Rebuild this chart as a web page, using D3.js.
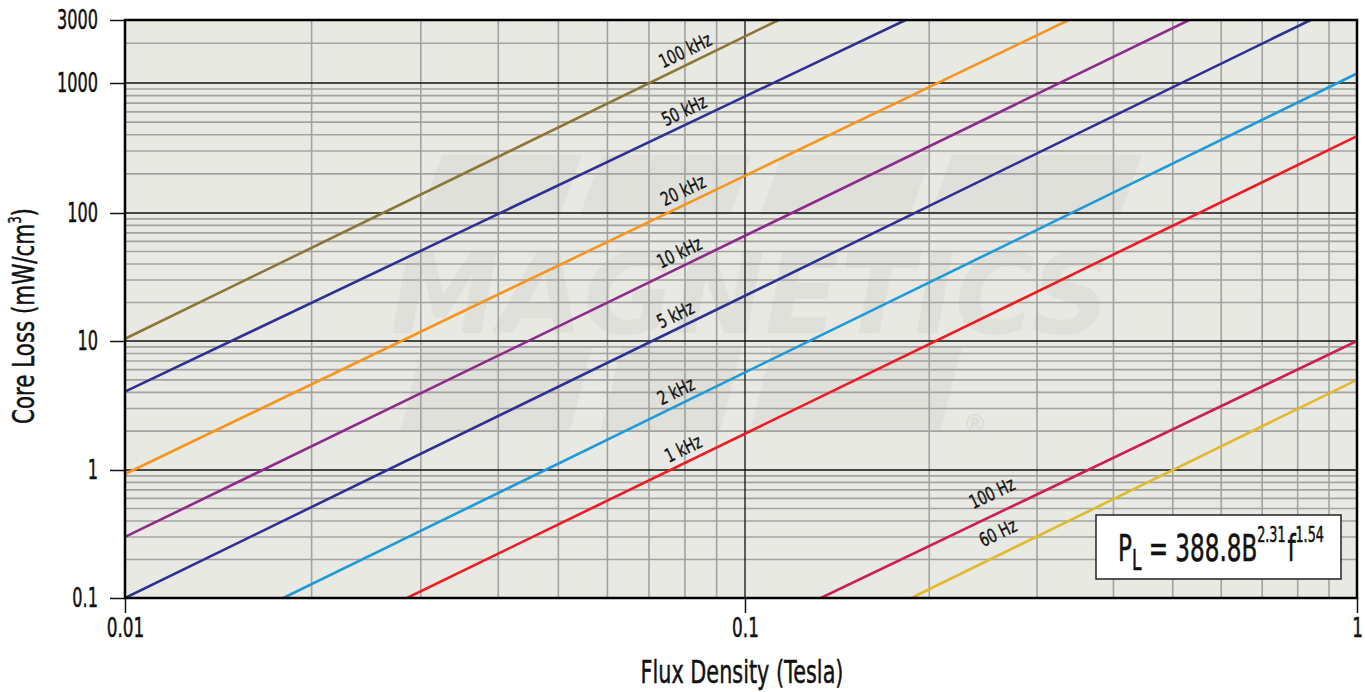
<!DOCTYPE html>
<html><head><meta charset="utf-8">
<script src="https://cdn.jsdelivr.net/npm/d3@7"></script>
<style>
html,body{margin:0;padding:0;background:#fff;}
text{font-family:"DejaVu Sans","Liberation Sans",sans-serif;}
</style></head>
<body><svg id="c" width="1365" height="692"></svg>
<script>
// ---- data ----
const seriesNames = ["100 kHz","50 kHz","20 kHz","10 kHz","5 kHz","2 kHz","1 kHz","100 Hz","60 Hz"];
const seriesColors = ["#8e7435","#2e3192","#f7941d","#8e2a8c","#2e3192","#1f9ad8","#ed1c24","#cc1e5a","#e2b82c"];
const startB = [0.01, 0.01, 0.01, 0.01, 0.01, 0.018, 0.0285, 0.133, 0.187];
const startP = [10.4, 4.05, 0.93, 0.30, 0.10, 0.1, 0.1, 0.1, 0.1];
const endB   = [0.1135, 0.183, 0.338, 0.532, 0.84, 1, 1, 1, 1];
const endP   = [3000, 3000, 3000, 3000, 3000, 1180, 390, 10, 5.0];
const labelB = [0.082, 0.082, 0.082, 0.081, 0.080, 0.080, 0.082, 0.262, 0.268];
const xTicks = [0.01, 0.1, 1];
const xTickLabels = ["0.01","0.1","1"];
const yTicks = [0.1, 1, 10, 100, 1000, 3000];
const yTickLabels = ["0.1","1","10","100","1000","3000"];

const svg = d3.select("#c");
const L=125, R=1357, T=20, B=598;
const x = d3.scaleLog().domain([0.01,0.1,1]).range([L,745,R]);
const y = d3.scaleLog().domain([0.1,1,10,100,1000,3000]).range([B,470,341,213,83,T]);

svg.append("rect").attr("x",L).attr("y",T).attr("width",R-L).attr("height",B-T).attr("fill","#e9e9e4");

// watermark
const wm = svg.append("g").attr("fill","#e0e0db");
wm.append("text").attr("x",750).attr("y",333).attr("text-anchor","middle")
  .attr("font-size",110).attr("font-weight","bold").attr("font-style","italic")
  .attr("textLength",720).attr("lengthAdjust","spacingAndGlyphs").text("MAGNETICS");
const blk = (x0,y0,w,h)=>wm.append("path").attr("d",`M${x0+22},${y0} h${w} l-22,${h} h-${w} z`);
blk(420,155,140,60); blk(580,155,150,60); blk(760,155,150,60); blk(930,155,190,60);
blk(400,347,170,85); blk(600,347,120,85); blk(750,347,190,85);
svg.append("text").attr("x",975).attr("y",432).attr("font-size",24).attr("fill","#dadad5").attr("text-anchor","middle").text("®");

// grid
const g = svg.append("g");
const minorX=[], minorY=[];
[0.01,0.1].forEach(d=>{for(let k=2;k<=9;k++) minorX.push(d*k);});
[0.1,1,10,100,1000].forEach(d=>{for(let k=2;k<=9;k++){const v=d*k; if(v<3000) minorY.push(v);}});
g.selectAll(".mx").data(minorX).join("line").attr("x1",d=>x(d)).attr("x2",d=>x(d)).attr("y1",T).attr("y2",B)
  .attr("stroke","#a2a2a0").attr("stroke-width",1.6);
g.selectAll(".my").data(minorY).join("line").attr("y1",d=>y(d)).attr("y2",d=>y(d)).attr("x1",L).attr("x2",R)
  .attr("stroke","#a2a2a0").attr("stroke-width",1.6);
g.selectAll(".Mx").data([0.1]).join("line").attr("x1",d=>x(d)).attr("x2",d=>x(d)).attr("y1",T).attr("y2",B)
  .attr("stroke","#111").attr("stroke-width",1.3);
g.selectAll(".My").data([1,10,100,1000]).join("line").attr("y1",d=>y(d)).attr("y2",d=>y(d)).attr("x1",L).attr("x2",R)
  .attr("stroke","#111").attr("stroke-width",1.3);

// series lines
svg.append("clipPath").attr("id","pc").append("rect").attr("x",L).attr("y",T).attr("width",R-L).attr("height",B-T);
const line = d3.line().x(d=>x(d[0])).y(d=>y(d[1]));
seriesNames.forEach((n,i)=>{
  svg.append("path").attr("d",line([[startB[i],startP[i]],[endB[i],endP[i]]]))
    .attr("fill","none").attr("stroke",seriesColors[i]).attr("stroke-width",2.6).attr("clip-path","url(#pc)");
});

// labels along lines
seriesNames.forEach((n,i)=>{
  const p0=[x(startB[i]),y(startP[i])], p1=[x(endB[i]),y(endP[i])];
  const ang=Math.atan2(p1[1]-p0[1],p1[0]-p0[0]);
  const t=(Math.log(labelB[i])-Math.log(startB[i]))/(Math.log(endB[i])-Math.log(startB[i]));
  const lp=[p0[0]+(p1[0]-p0[0])*t, p0[1]+(p1[1]-p0[1])*t];
  const off = i>=7 ? 14 : 7;
  const px=lp[0]+Math.sin(ang)*off, py=lp[1]-Math.cos(ang)*off;
  svg.append("text").attr("transform",`translate(${px},${py}) rotate(${ang*180/Math.PI}) scale(0.72,1)`)
    .attr("text-anchor","middle").attr("font-size",19).attr("fill","#111")
    .attr("stroke","#111").attr("stroke-width",0.35).text(n);
});

// frame
svg.append("rect").attr("x",L).attr("y",T).attr("width",R-L).attr("height",B-T).attr("fill","none").attr("stroke","#000").attr("stroke-width",2.5);

// axes ticks
const ys=0.62, xs=0.65;
const yAx = svg.append("g").attr("transform",`translate(${L},0)`)
  .call(d3.axisLeft(y).tickValues(yTicks).tickSize(15).tickPadding(12).tickFormat((d,i)=>yTickLabels[i]));
const xAx = svg.append("g").attr("transform",`translate(0,${B})`)
  .call(d3.axisBottom(x).tickValues(xTicks).tickSize(15).tickPadding(6).tickFormat((d,i)=>xTickLabels[i]));
[yAx,xAx].forEach(a=>{a.select(".domain").remove();
  a.selectAll(".tick line").attr("stroke","#111").attr("stroke-width",1.5);
  a.selectAll(".tick text").attr("font-size",26).attr("fill","#111").attr("stroke","#111").attr("stroke-width",0.5);});
yAx.selectAll(".tick text").attr("x",-27/ys).attr("transform",`scale(${ys},1)`);
xAx.selectAll(".tick text").attr("transform",`scale(${xs},1)`);

// axis titles
svg.append("text").attr("transform","translate(742,683) scale(0.65,1)").attr("text-anchor","middle").attr("font-size",32)
  .attr("fill","#111").attr("stroke","#111").attr("stroke-width",0.5).text("Flux Density (Tesla)");
const yt = svg.append("text").attr("transform","translate(34,316) rotate(-90) scale(0.69,1)").attr("text-anchor","middle").attr("font-size",31)
  .attr("fill","#111").attr("stroke","#111").attr("stroke-width",0.5);
yt.append("tspan").text("Core Loss (mW/cm");
yt.append("tspan").attr("font-size",17).attr("dy",-13).text("3");
yt.append("tspan").attr("dy",13).text(")");

// formula box
svg.append("rect").attr("x",1096).attr("y",515).attr("width",245).attr("height",64).attr("fill","#fff").attr("stroke","#222").attr("stroke-width",1.5);
const ft = svg.append("text").attr("x",0).attr("y",0).attr("font-size",38).attr("fill","#111").attr("stroke","#111").attr("stroke-width",0.6);
ft.append("tspan").text("P");
ft.append("tspan").attr("font-size",28).attr("dy",9).text("L");
ft.append("tspan").attr("dy",-9).text(" = 388.8B");
ft.append("tspan").attr("font-size",21).attr("dy",-19).text("2.31");
ft.append("tspan").attr("dy",19).attr("dx",3).text("f");
ft.append("tspan").attr("font-size",21).attr("dy",-19).text("1.54");
const fw = ft.node().getBBox().width;
ft.attr("transform",`translate(1118,561) scale(${206/fw},1)`);
</script></body></html>
